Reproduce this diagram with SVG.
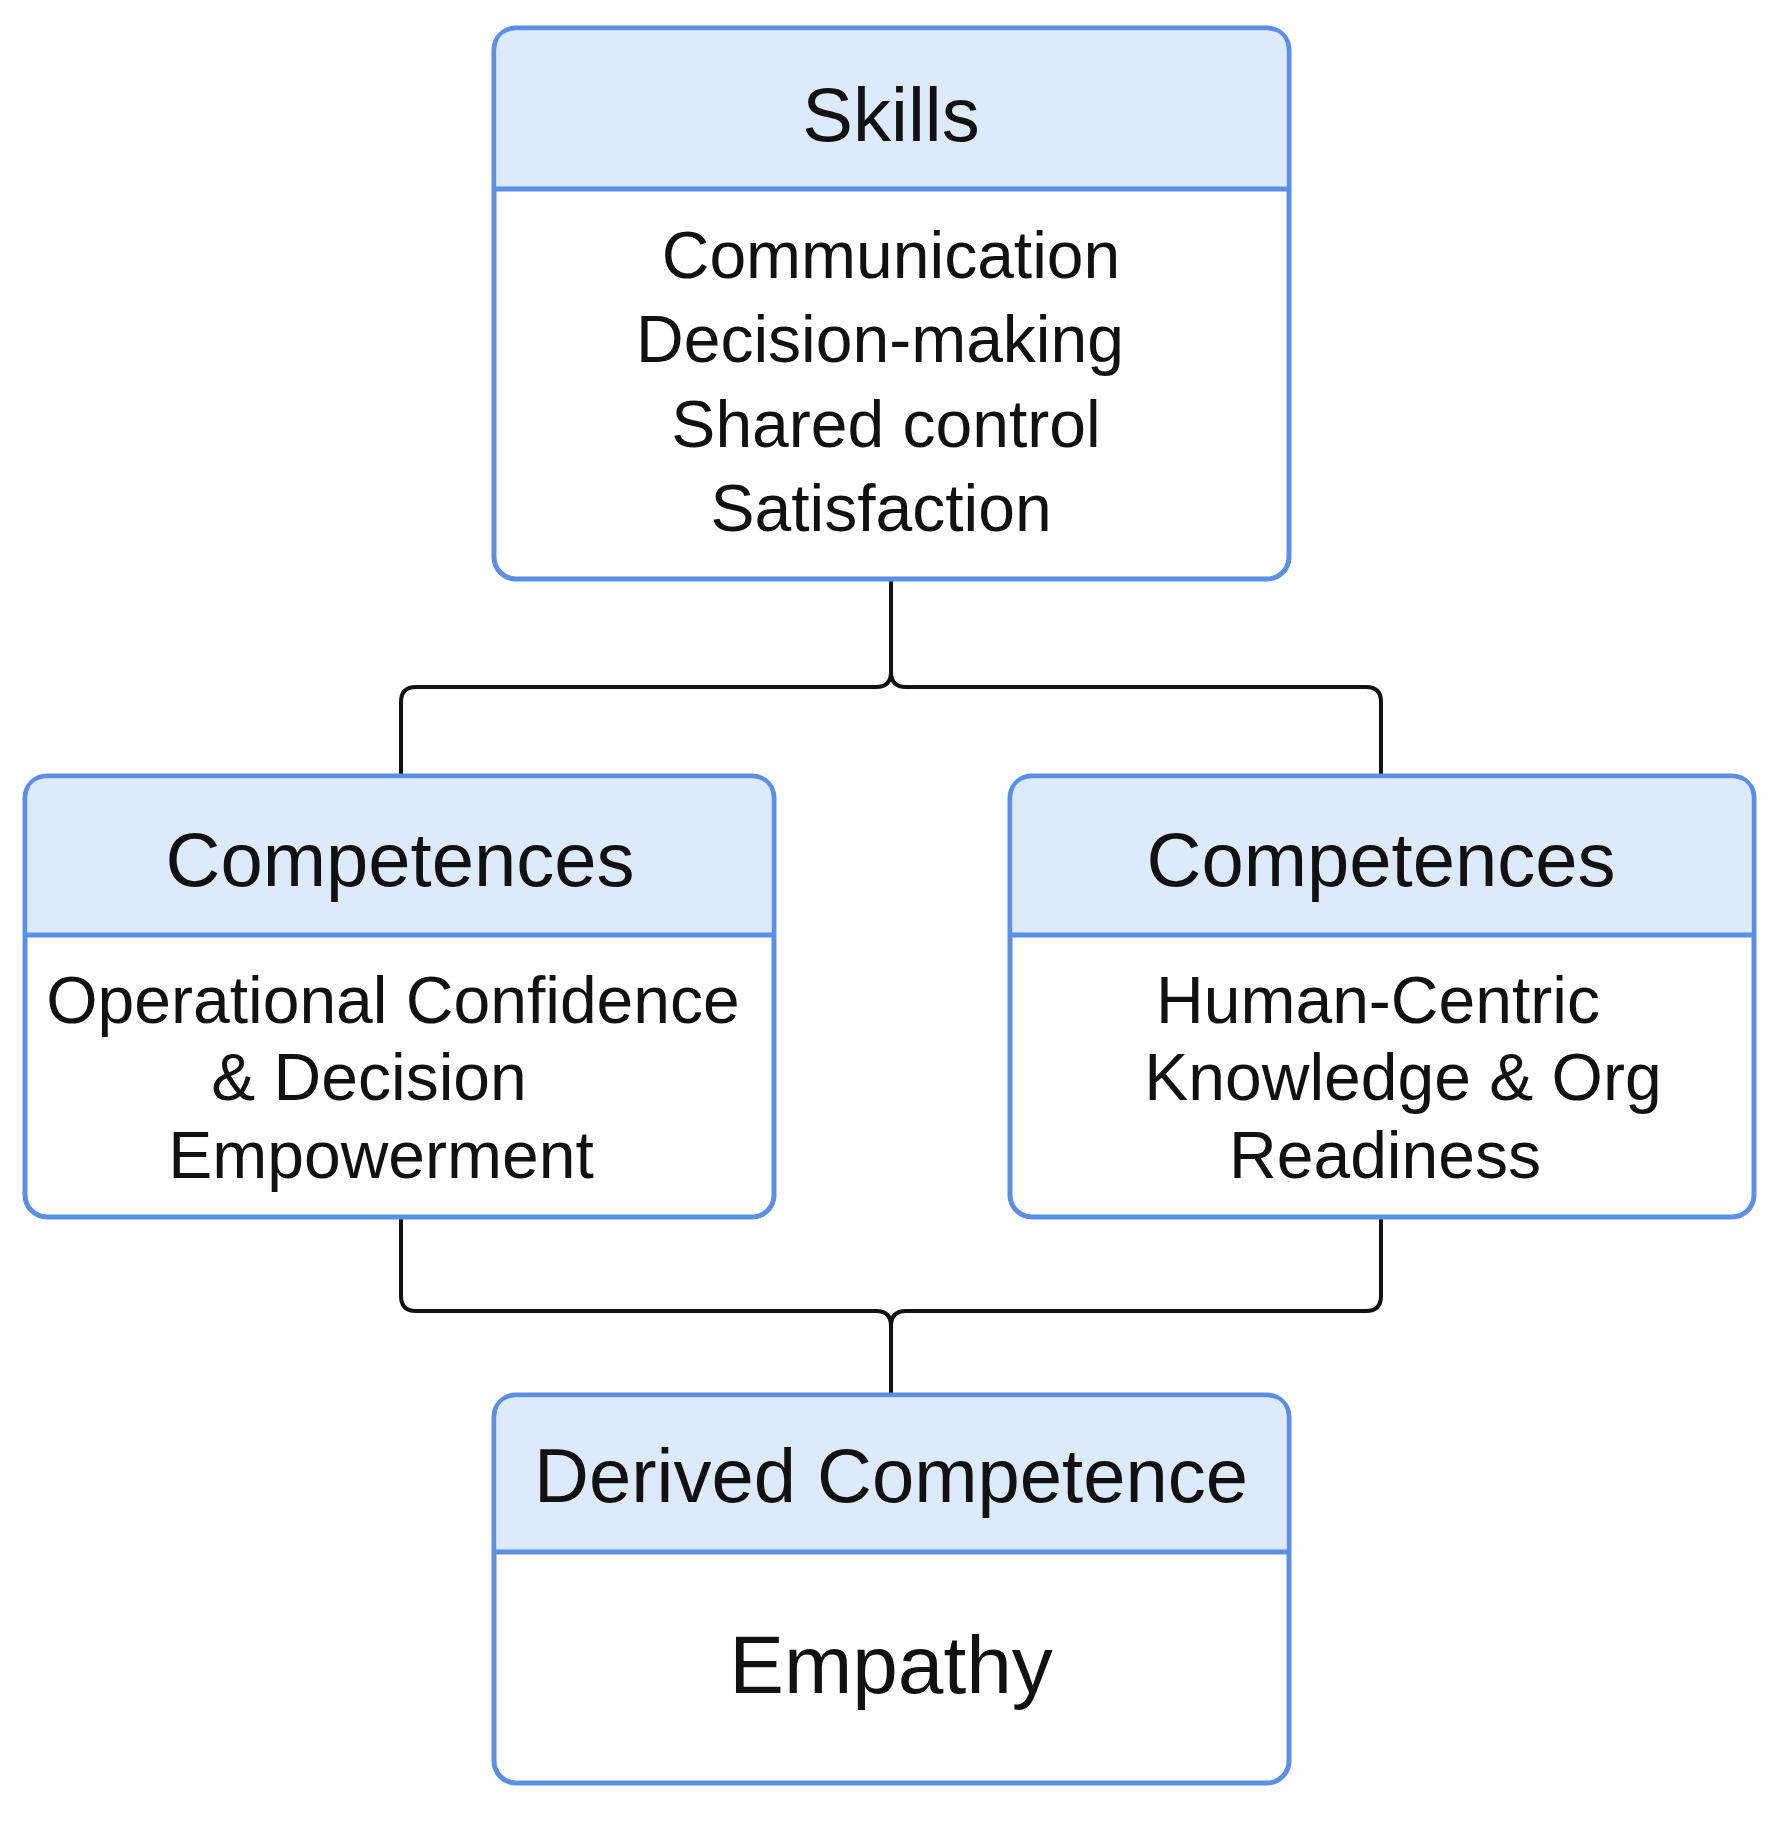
<svg xmlns="http://www.w3.org/2000/svg" width="1779" height="1822" viewBox="0 0 1779 1822">
<style>
.box{fill:#fff;stroke:#5b8fe3;stroke-width:5}
.hdr{fill:#dceafc}
.div{stroke:#5b8fe3;stroke-width:5}
.t{font-family:"Liberation Sans",Arial,sans-serif;fill:#111;text-anchor:middle}
.ti{font-size:76px}
.b{font-size:66px}
.con{fill:none;stroke:#111;stroke-width:4}
</style>
<rect width="1779" height="1822" fill="#fff"/>
<g id="connectors">
<path class="con" d="M891 581 V672 Q891 687 876 687 H416 Q401 687 401 702 V776"/>
<path class="con" d="M891 672 Q891 687 906 687 H1366 Q1381 687 1381 702 V776"/>
<path class="con" d="M401 1219 V1296 Q401 1311 416 1311 H876 Q891 1311 891 1326 V1395"/>
<path class="con" d="M1381 1219 V1296 Q1381 1311 1366 1311 H906 Q891 1311 891 1326"/>
</g>
<g id="skills">
<rect class="box" x="494" y="28" width="795" height="551" rx="22"/>
<path class="hdr" d="M516.5 30.5 H1266.5 Q1286.5 30.5 1286.5 50.5 V189 H496.5 V50.5 Q496.5 30.5 516.5 30.5 Z"/>
<line class="div" x1="494" y1="189" x2="1289" y2="189"/>
<text class="t ti" x="891" y="141">Skills</text>
<text class="t b" x="891" y="278">Communication</text>
<text class="t b" x="880" y="362">Decision-making</text>
<text class="t b" x="886" y="447">Shared control</text>
<text class="t b" x="881" y="531">Satisfaction</text>
</g>
<g id="comp-left">
<rect class="box" x="25" y="776" width="749" height="441" rx="22"/>
<path class="hdr" d="M47.5 778.5 H751.5 Q771.5 778.5 771.5 798.5 V935 H27.5 V798.5 Q27.5 778.5 47.5 778.5 Z"/>
<line class="div" x1="25" y1="935" x2="774" y2="935"/>
<text class="t ti" x="400" y="886">Competences</text>
<text class="t b" x="393" y="1023">Operational Confidence</text>
<text class="t b" x="369" y="1100">&amp; Decision</text>
<text class="t b" x="381" y="1178">Empowerment</text>
</g>
<g id="comp-right">
<rect class="box" x="1010" y="776" width="744" height="441" rx="22"/>
<path class="hdr" d="M1032.5 778.5 H1731.5 Q1751.5 778.5 1751.5 798.5 V935 H1012.5 V798.5 Q1012.5 778.5 1032.5 778.5 Z"/>
<line class="div" x1="1010" y1="935" x2="1754" y2="935"/>
<text class="t ti" x="1381" y="886">Competences</text>
<text class="t b" x="1378" y="1023">Human-Centric</text>
<text class="t b" x="1403" y="1100">Knowledge &amp; Org</text>
<text class="t b" x="1385" y="1178">Readiness</text>
</g>
<g id="derived">
<rect class="box" x="494" y="1395" width="795" height="388" rx="22"/>
<path class="hdr" d="M516.5 1397.5 H1266.5 Q1286.5 1397.5 1286.5 1417.5 V1552 H496.5 V1417.5 Q496.5 1397.5 516.5 1397.5 Z"/>
<line class="div" x1="494" y1="1552" x2="1289" y2="1552"/>
<text class="t ti" x="891" y="1502">Derived Competence</text>
<text class="t" style="font-size:82px" x="891" y="1693">Empathy</text>
</g>
</svg>
